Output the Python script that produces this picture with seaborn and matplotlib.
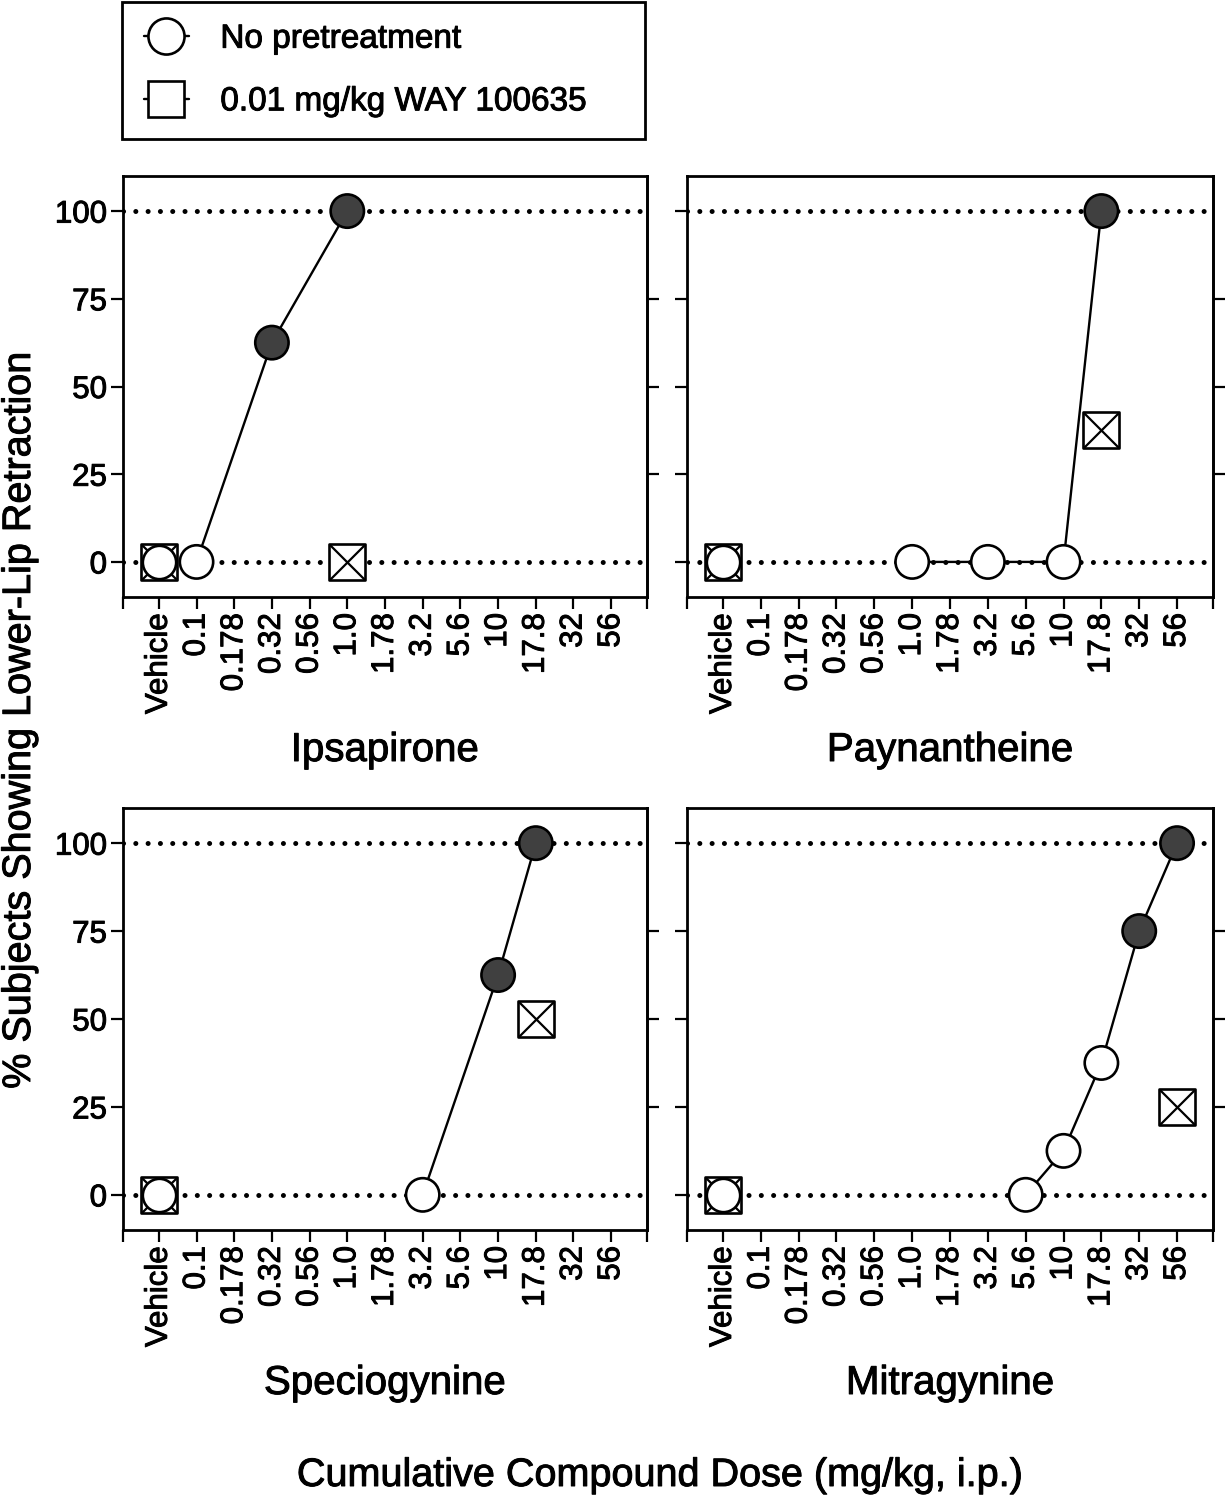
import matplotlib
matplotlib.use("Agg")
import matplotlib.pyplot as plt
import matplotlib.patheffects as pe
from matplotlib.lines import Line2D
from matplotlib.text import Text
import seaborn as sns
import pandas as pd

# dose axis shared by all four panels
doses = ["Vehicle", "0.1", "0.178", "0.32", "0.56", "1.0", "1.78",
         "3.2", "5.6", "10", "17.8", "32", "56"]

# no pretreatment curves (Vehicle point drawn separately)
ipsa_doses = ["0.1", "0.32", "1.0"]
ipsa_pct = [0, 62.5, 100]
payn_doses = ["1.0", "3.2", "10", "17.8"]
payn_pct = [0, 0, 0, 100]
spec_doses = ["3.2", "10", "17.8"]
spec_pct = [0, 62.5, 100]
mitr_doses = ["5.6", "10", "17.8", "32", "56"]
mitr_pct = [0, 12.5, 37.5, 75, 100]

# vehicle (no pretreatment)
vehicle_pct = [0, 0, 0, 0]

# 0.01 mg/kg WAY 100635 pretreatment
ipsa_way_doses = ["Vehicle", "1.0"]
ipsa_way_pct = [0, 0]
payn_way_doses = ["Vehicle", "17.8"]
payn_way_pct = [0, 37.5]
spec_way_doses = ["Vehicle", "17.8"]
spec_way_pct = [0, 50]
mitr_way_doses = ["Vehicle", "56"]
mitr_way_pct = [0, 25]

compounds = ["Ipsapirone", "Paynantheine", "Speciogynine", "Mitragynine"]
curves = [(ipsa_doses, ipsa_pct), (payn_doses, payn_pct),
          (spec_doses, spec_pct), (mitr_doses, mitr_pct)]
way = [(ipsa_way_doses, ipsa_way_pct), (payn_way_doses, payn_way_pct),
       (spec_way_doses, spec_way_pct), (mitr_way_doses, mitr_way_pct)]

sns.set_theme(style="ticks")
plt.rcParams["font.family"] = ["Liberation Sans", "DejaVu Sans"]
plt.rcParams["text.color"] = "black"
plt.rcParams["axes.labelcolor"] = "black"
plt.rcParams["xtick.color"] = "black"
plt.rcParams["ytick.color"] = "black"

fig = plt.figure(figsize=(12.27, 15), dpi=100)
W, H = 1227, 1500

# axes boxes in pixels: left, top, right, bottom
boxes = [(123, 176, 647, 597), (687, 176, 1213, 597),
         (123, 808, 647, 1230), (687, 808, 1213, 1230)]

TICK_FS = 22.5
TITLE_FS = 29
MS_CIRC = 24
MS_SQ = 25.5
EW = 1.9
DARK = "#404040"
XLIM = (-0.95, 12.95)

for i, (name, box) in enumerate(zip(compounds, boxes)):
    l, t, r, b = box
    ax = fig.add_axes([l / W, 1 - b / H, (r - l) / W, (b - t) / H])

    # dotted reference lines
    for yref in (0, 100):
        ax.axhline(yref, color="black", lw=3.6, linestyle=(0, (0.01, 2.45)),
                   dash_capstyle="round", zorder=1)

    # WAY 100635 squares with a cross
    wd, wp = way[i]
    wdf = pd.DataFrame({"x": [doses.index(d) for d in wd], "y": wp})
    sns.scatterplot(data=wdf, x="x", y="y", marker="s", s=MS_SQ ** 2,
                    color="white", edgecolor="black", linewidth=EW,
                    zorder=2, ax=ax, legend=False)
    sns.scatterplot(data=wdf, x="x", y="y", marker="x", s=MS_SQ ** 2,
                    color="black", linewidth=1.6, zorder=2.1, ax=ax,
                    legend=False)

    # no pretreatment curve
    cd, cp = curves[i]
    cdf = pd.DataFrame({"x": [doses.index(d) for d in cd], "y": cp})
    cdf["filled"] = cdf["y"] >= 50
    sns.lineplot(data=cdf, x="x", y="y", color="black", lw=1.7,
                 zorder=3, ax=ax)
    sns.scatterplot(data=cdf, x="x", y="y", hue="filled",
                    palette={True: DARK, False: "white"}, s=MS_CIRC ** 2,
                    edgecolor="black", linewidth=EW, zorder=4, ax=ax,
                    legend=False)

    # vehicle circle
    vdf = pd.DataFrame({"x": [doses.index("Vehicle")], "y": [vehicle_pct[i]]})
    sns.scatterplot(data=vdf, x="x", y="y", s=MS_CIRC ** 2, color="white",
                    edgecolor="black", linewidth=EW, zorder=4, ax=ax,
                    legend=False)

    ax.set_xlim(*XLIM)
    ax.set_ylim(-10, 110)
    ax.set_xticks(range(len(doses)))
    ax.set_xticklabels(doses, rotation=90, fontsize=TICK_FS)
    ax.set_xticks(list(XLIM), minor=True)
    ax.set_yticks([0, 25, 50, 75, 100])
    if i % 2 == 0:
        ax.set_yticklabels(["0", "25", "50", "75", "100"], fontsize=TICK_FS)
    else:
        ax.set_yticklabels([])
    ax.set_xlabel("")
    ax.set_ylabel("")
    ax.tick_params(axis="both", which="both", direction="out", length=8.5,
                   width=1.6, pad=3)
    for sp in ax.spines.values():
        sp.set_visible(True)
        sp.set_linewidth(2)
        sp.set_color("black")

    sec = ax.secondary_yaxis("right")
    sec.set_yticks([25, 50, 75])
    sec.set_yticklabels([])
    sec.tick_params(direction="out", length=8.5, width=1.6)
    sec.spines["right"].set_linewidth(2)

    # compound name under the dose labels
    title_y = 750 if i < 2 else 1383
    fig.text((l + r) / 2 / W, 1 - title_y / H, name, fontsize=TITLE_FS,
             ha="center", va="center")

fig.text(19 / W, 1 - 720 / H, "% Subjects Showing Lower-Lip Retraction",
         rotation=90, fontsize=28.5, ha="center", va="center")
fig.text(660 / W, 1 - 1475 / H, "Cumulative Compound Dose (mg/kg, i.p.)",
         fontsize=28.5, ha="center", va="center")

handles = [
    Line2D([], [], color="black", lw=1.7, marker="o", ms=26,
           markerfacecolor="white", markeredgecolor="black", mew=EW),
    Line2D([], [], color="black", lw=1.7, marker="s", ms=26,
           markerfacecolor="white", markeredgecolor="black", mew=EW),
]
leg = fig.legend(handles, ["No pretreatment", "0.01 mg/kg WAY 100635"],
                 loc="upper left",
                 bbox_to_anchor=(122 / W, 1 - 2 / H, 523 / W, 0.0),
                 mode="expand", fontsize=24, frameon=True, fancybox=False,
                 borderaxespad=0, borderpad=0.65, labelspacing=0.95,
                 handlelength=1.35, handletextpad=0.95)
leg.get_frame().set_edgecolor("black")
leg.get_frame().set_linewidth(2)
leg.get_frame().set_alpha(1)

# slightly heavier glyphs, like the printed figure
for txt in fig.findobj(Text):
    txt.set_path_effects([pe.withStroke(linewidth=0.7, foreground="black")])

fig.savefig("out.png", dpi=100)
